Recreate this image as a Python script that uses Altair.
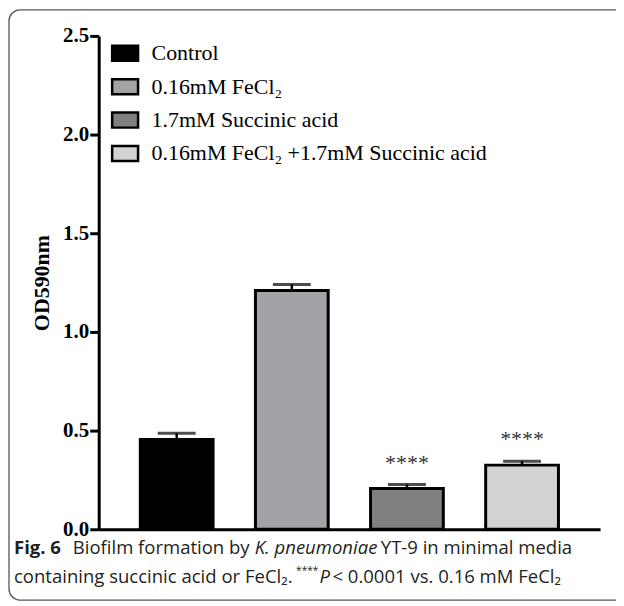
import altair as alt
import pandas as pd

groups = ["Control", "0.16mM FeCl₂", "1.7mM Succinic acid", "0.16mM FeCl₂ +1.7mM Succinic acid"]
means = [0.455, 1.21, 0.207, 0.325]
errors = [0.032, 0.03, 0.02, 0.02]
signif = ["", "", "****", "****"]
colors = ["#000000", "#a3a2a7", "#808080", "#d3d3d3"]
y_ticks = [0.0, 0.5, 1.0, 1.5, 2.0, 2.5]

df = pd.DataFrame({"group": groups, "mean": means, "err": errors, "sig": signif})
df["upper"] = df["mean"] + df["err"]

W, H = 503, 495
serif = "Liberation Serif"
sans = "Open Sans"

xenc = alt.X("group:N", sort=groups, title=None,
             scale=alt.Scale(paddingInner=0.368, paddingOuter=0.3615),
             axis=alt.Axis(labels=False, ticks=False, domainColor="black",
                           domainWidth=3, grid=False))
yscale = alt.Scale(domain=[0, 2.5], nice=False)

bars = alt.Chart(df).mark_bar(stroke="black", strokeWidth=3).encode(
    x=xenc,
    y=alt.Y("mean:Q", scale=yscale, title="OD590nm",
            axis=alt.Axis(values=y_ticks, format=".1f", grid=False,
                          domainColor="black", domainWidth=3,
                          tickColor="black", tickWidth=3, tickSize=9,
                          labelPadding=1, labelFont=serif, labelFontSize=21,
                          labelFontWeight="bold", labelColor="black",
                          titleFont=serif, titleFontSize=22, titleFontWeight="bold",
                          titleColor="black", titlePadding=9)),
    fill=alt.Fill("group:N", sort=groups,
                  scale=alt.Scale(domain=groups, range=colors),
                  legend=alt.Legend(title=None, orient="none", legendX=12, legendY=3,
                                    symbolType="M-1,-0.58H1V0.58H-1Z", symbolSize=676,
                                    symbolStrokeColor="black", symbolStrokeWidth=2.5,
                                    symbolOpacity=1,
                                    labelFont=serif, labelFontSize=22, labelColor="black",
                                    labelOffset=12, rowPadding=5.5, padding=0,
                                    labelLimit=500)),
)

rules = alt.Chart(df).mark_rule(color="black", strokeWidth=2.5).encode(
    x=alt.X("group:N", sort=groups), y="mean:Q", y2="upper:Q")

caps = alt.Chart(df).mark_tick(color="black", thickness=3, size=38).encode(
    x=alt.X("group:N", sort=groups), y="upper:Q")

stars = alt.Chart(df).mark_text(font=serif, fontSize=22, color="#333333",
                                baseline="middle", dy=-22).encode(
    x=alt.X("group:N", sort=groups), y="upper:Q", text="sig:N")

one = pd.DataFrame({"k": [0]})

frame = alt.Chart(one).mark_rect(fillOpacity=0, stroke="#555555", strokeWidth=1.3,
                                 cornerRadius=11).encode(
    x=alt.value(-90), x2=alt.value(560), y=alt.value(-26), y2=alt.value(566))

def cap_text(txt, x, y, font=sans, size=18.6, weight="normal", style="normal"):
    return alt.Chart(one).mark_text(align="left", baseline="alphabetic", font=font,
                                    fontSize=size, fontWeight=weight, fontStyle=style,
                                    color="#231f20").encode(
        x=alt.value(x), y=alt.value(y), text=alt.value(txt))

L1, L2 = 520, 549
caption = [
    cap_text("Fig. 6", -85, L1, weight="bold"),
    cap_text("Biofilm formation by", -26, L1),
    cap_text("K. pneumoniae", 156.5, L1, style="italic"),
    cap_text("YT-9 in minimal media", 283, L1),
    cap_text("containing succinic acid or FeCl₂.", -85, L2),
    cap_text("****", 198, L2 - 9, size=10.2),
    cap_text("P", 221.5, L2, style="italic"),
    cap_text("< 0.0001 vs. 0.16 mM FeCl₂", 234.5, L2),
]

chart = alt.layer(frame, bars, rules, caps, stars, *caption).properties(
    width=W, height=H,
    autosize=alt.AutoSizeParams(type="none"),
    padding={"left": 91, "top": 27, "right": 16, "bottom": 73},
).configure_view(stroke=None)

chart.save("out.html", embed_options={"renderer": "svg", "actions": False})
